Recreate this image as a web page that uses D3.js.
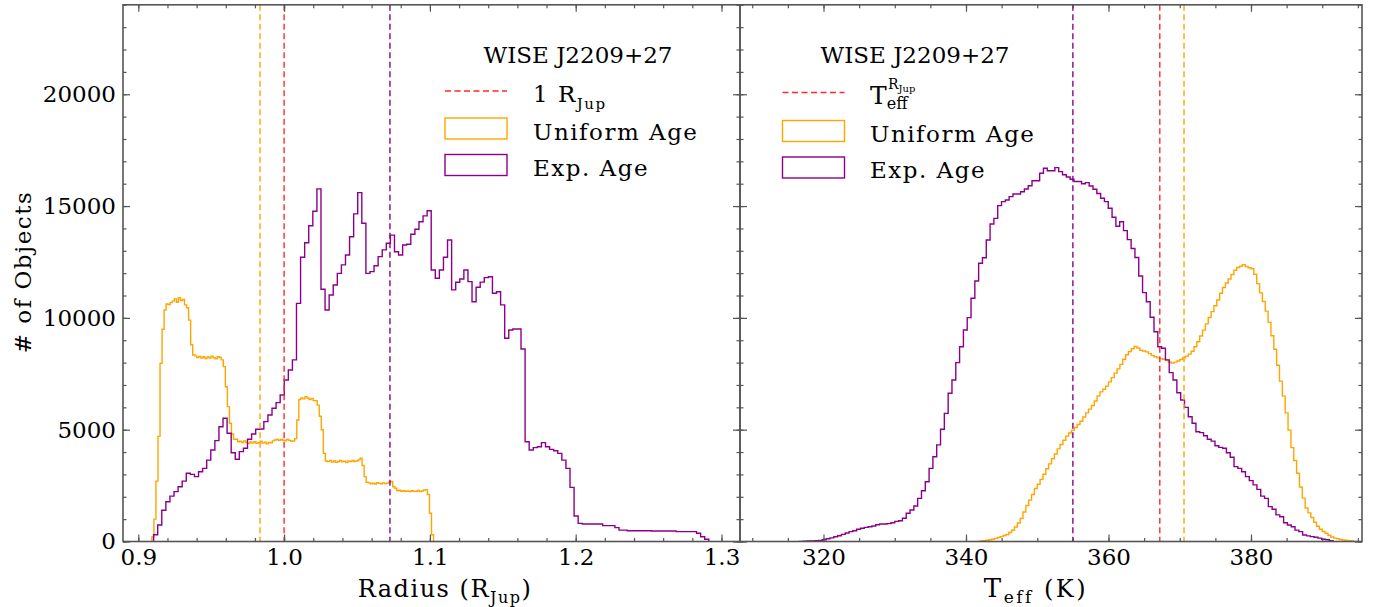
<!DOCTYPE html>
<html>
<head>
<meta charset="utf-8">
<script src="https://cdn.jsdelivr.net/npm/d3@7"></script>
<style>
  html, body { margin: 0; padding: 0; background: #fff; }
  svg { display: block; }
  text { font-family: "DejaVu Serif", serif; fill: #000; }
</style>
</head>
<body>
<svg id="chart" width="1382" height="607"></svg>
<script>
// ---------------- DATA ----------------
const objectName = "WISE J2209+27";
const seriesNames = ["Uniform Age", "Exp. Age"];

// Radius histograms (R_Jup)
const radiusExpStart = 0.9105, radiusExpWidth = 0.0028;
const radiusExpCounts = [300, 740, 1400, 1780, 2030, 2230, 2450, 2700, 3050, 3000, 2900, 3120, 3270, 3640, 4090, 4510, 5130, 5510, 4840, 3970, 3680, 4020, 4170, 4570, 4810, 5020, 5030, 5360, 5660, 5960, 6210, 6550, 7220, 7670, 8120, 10650, 12710, 13360, 14120, 14770, 15770, 11280, 10350, 11020, 11470, 11990, 12370, 12810, 13630, 14650, 15600, 14230, 11990, 12070, 12330, 12740, 13040, 13340, 13700, 12960, 12810, 13260, 13290, 13740, 13960, 14300, 14560, 14790, 12140, 11770, 12140, 12710, 13480, 11250, 11590, 11740, 12140, 11620, 10720, 11370, 11600, 11800, 11840, 11100, 11170, 10580, 9090, 9460, 9500, 9500, 8610, 4460, 4090, 4200, 4240, 4420, 4240, 4120, 4060, 3940, 3640, 3270, 2420, 1140, 810, 780, 780, 780, 780, 780, 710, 710, 710, 620, 510, 510, 480, 480, 480, 480, 480, 480, 470, 470, 470, 470, 470, 470, 440, 440, 440, 440, 440, 370, 210, 100];

const radiusUniStart = 0.9093, radiusUniWidth = 0.0014;
const radiusUniCounts = [200, 1000, 2700, 4700, 7970, 9490, 10350, 10620, 10600, 10680, 10750, 10850, 10700, 10900, 10780, 10820, 10580, 10450, 9900, 8800, 8340, 8300, 8230, 8280, 8200, 8260, 8180, 8250, 8200, 8290, 8220, 8170, 8260, 8230, 8120, 7820, 6920, 6030, 5290, 4810, 4570, 4570, 4460, 4480, 4430, 4500, 4420, 4380, 4450, 4400, 4460, 4390, 4420, 4480, 4400, 4440, 4370, 4430, 4410, 4500, 4540, 4580, 4520, 4560, 4530, 4500, 4560, 4520, 4480, 4500, 4600, 5430, 6350, 6420, 6380, 6480, 6420, 6350, 6400, 6300, 6300, 6100, 5600, 5000, 3940, 3600, 3570, 3620, 3550, 3600, 3540, 3580, 3620, 3560, 3590, 3530, 3600, 3570, 3620, 3580, 3600, 3650, 3720, 3400, 2900, 2650, 2620, 2580, 2610, 2570, 2630, 2600, 2580, 2620, 2590, 2610, 2650, 2680, 2450, 2380, 2270, 2290, 2250, 2270, 2240, 2260, 2230, 2270, 2240, 2250, 2280, 2230, 2260, 2300, 2320, 2100, 1260, 300];

// Teff histograms (K)
const teffExpStart = 316.63, teffExpWidth = 0.535;
const teffExpCounts = [5, 10, 20, 30, 40, 50, 80, 120, 160, 210, 260, 320, 380, 440, 480, 550, 590, 630, 660, 690, 750, 780, 780, 800, 840, 900, 930, 1040, 1260, 1410, 1590, 1930, 2270, 2670, 3270, 3790, 4320, 5020, 5730, 6630, 7220, 8000, 8710, 9460, 10010, 10880, 11650, 12440, 12690, 13480, 14200, 14450, 15020, 15200, 15270, 15420, 15540, 15540, 15640, 15760, 15910, 16130, 16130, 16470, 16690, 16580, 16580, 16720, 16540, 16400, 16300, 16200, 16100, 16100, 16000, 16050, 15900, 15750, 15560, 15350, 15200, 14900, 14500, 14100, 14300, 13900, 13500, 13100, 12700, 11870, 11130, 10720, 10030, 9380, 8710, 8640, 8120, 7550, 7220, 6650, 6330, 6000, 5580, 5290, 4910, 4870, 4730, 4570, 4490, 4280, 4210, 4170, 3970, 3770, 3350, 3270, 3120, 2900, 2720, 2530, 2330, 2030, 1930, 1560, 1440, 1190, 1110, 840, 740, 660, 510, 440, 290, 250, 220, 190, 150, 100, 80, 40];

const teffUniStart = 341.6, teffUniWidth = 0.4;
const teffUniCounts = [5, 20, 35, 55, 80, 100, 140, 180, 220, 270, 310, 400, 500, 650, 830, 1030, 1320, 1610, 1850, 2100, 2370, 2560, 2780, 3010, 3250, 3470, 3700, 3910, 4140, 4340, 4530, 4710, 4850, 4970, 5100, 5230, 5380, 5570, 5750, 5920, 6080, 6280, 6510, 6690, 6810, 6950, 7140, 7330, 7530, 7720, 7920, 8150, 8350, 8490, 8620, 8720, 8650, 8550, 8520, 8480, 8400, 8320, 8260, 8210, 8180, 8150, 8110, 8030, 7980, 8020, 8070, 8140, 8210, 8290, 8380, 8510, 8710, 8930, 9190, 9450, 9730, 10020, 10280, 10540, 10800, 11100, 11360, 11560, 11740, 11940, 12130, 12250, 12310, 12380, 12300, 12240, 12200, 11950, 11530, 11120, 10730, 10300, 9800, 9200, 8600, 7880, 7170, 6500, 5750, 4980, 4200, 3620, 3050, 2440, 1940, 1500, 1280, 1070, 860, 680, 550, 450, 370, 280, 200, 150, 120, 90, 70, 50, 40, 30];

// Reference lines
const radiusLines = [
  {key: "uni", value: 0.9835},
  {key: "ref", value: 1.0},
  {key: "exp", value: 1.0726}
];
const teffLines = [
  {key: "exp", value: 355.0},
  {key: "ref", value: 367.2},
  {key: "uni", value: 370.6}
];

// Ticks
const radiusMajorTicks = [0.9, 1.0, 1.1, 1.2, 1.3];
const teffMajorTicks = [320, 340, 360, 380];
const countMajorTicks = [0, 5000, 10000, 15000, 20000];

// ---------------- STYLE / LAYOUT ----------------
const colors = { uni: "#ffa500", exp: "#8b008b", ref: "#ff2a2a" };
const frameColor = "#555";
const plotTop = 4.8, plotBottom = 541.5;
const leftPanel = { x0: 123, x1: 740 };
const rightPanel = { x0: 740, x1: 1362 };

const svg = d3.select("#chart");
svg.append("rect").attr("width", 1382).attr("height", 607).attr("fill", "#fff");

const y = d3.scaleLinear().domain([0, 24000]).range([plotBottom, plotTop]);
const xR = d3.scaleLinear().domain([0.8895, 1.3127]).range([leftPanel.x0, leftPanel.x1]);
const xT = d3.scaleLinear().domain([308.28, 395.58]).range([rightPanel.x0, rightPanel.x1]);

function stepPts(start, width, counts) {
  const pts = [[start, 0]];
  counts.forEach((c, i) => {
    pts.push([start + i * width, c]);
    pts.push([start + (i + 1) * width, c]);
  });
  pts.push([start + counts.length * width, 0]);
  return pts;
}

function drawPanel(cfg) {
  const g = svg.append("g");
  const x = cfg.x;
  const [x0, x1] = x.range();
  const clipId = "clip" + cfg.id;
  svg.append("clipPath").attr("id", clipId)
    .append("rect").attr("x", x0).attr("y", plotTop).attr("width", x1 - x0).attr("height", plotBottom - plotTop);

  const plot = g.append("g").attr("clip-path", `url(#${clipId})`);
  const line = d3.line().x(d => x(d[0])).y(d => y(d[1]));

  cfg.hists.forEach(h => {
    plot.append("path")
      .attr("d", line(stepPts(h.start, h.width, h.counts)))
      .attr("fill", "none")
      .attr("stroke", colors[h.key])
      .attr("stroke-width", 1.4)
      .attr("stroke-linejoin", "miter");
  });

  cfg.lines.forEach(l => {
    plot.append("line")
      .attr("x1", x(l.value)).attr("x2", x(l.value))
      .attr("y1", plotTop).attr("y2", plotBottom)
      .attr("stroke", colors[l.key])
      .attr("stroke-width", 1.4)
      .attr("stroke-dasharray", "6,3.5");
  });

  const dom = x.domain();
  const minor = d3.range(Math.ceil(dom[0] / cfg.minorStep - 1e-9), Math.floor(dom[1] / cfg.minorStep + 1e-9) + 1)
    .map(k => +(k * cfg.minorStep).toFixed(6));
  const yMinor = d3.range(0, 24001, 1000);

  const axes = g.append("g").attr("class", "axes");
  function styleAxis(sel) {
    sel.select(".domain").remove();
    sel.selectAll(".tick line").attr("stroke", frameColor).attr("stroke-width", 1.2);
    sel.selectAll("text").style("font-family", "DejaVu Serif").style("font-size", "23px").attr("fill", "#000");
  }
  axes.append("g").attr("transform", `translate(0,${plotBottom})`)
    .call(d3.axisBottom(x).tickValues(cfg.major).tickSize(-7).tickPadding(7).tickFormat(cfg.fmt))
    .call(styleAxis);
  axes.append("g").attr("transform", `translate(0,${plotBottom})`)
    .call(d3.axisBottom(x).tickValues(minor).tickSize(-3.5).tickFormat(""))
    .call(styleAxis);
  axes.append("g").attr("transform", `translate(0,${plotTop})`)
    .call(d3.axisTop(x).tickValues(cfg.major).tickSize(-7).tickFormat(""))
    .call(styleAxis);
  axes.append("g").attr("transform", `translate(0,${plotTop})`)
    .call(d3.axisTop(x).tickValues(minor).tickSize(-3.5).tickFormat(""))
    .call(styleAxis);
  axes.append("g").attr("transform", `translate(${x0},0)`)
    .call(d3.axisLeft(y).tickValues(countMajorTicks).tickSize(-7).tickPadding(7)
      .tickFormat(cfg.yLabels ? d3.format("d") : ""))
    .call(styleAxis);
  axes.append("g").attr("transform", `translate(${x0},0)`)
    .call(d3.axisLeft(y).tickValues(yMinor).tickSize(-3.5).tickFormat(""))
    .call(styleAxis);
  axes.append("g").attr("transform", `translate(${x1},0)`)
    .call(d3.axisRight(y).tickValues(countMajorTicks).tickSize(-7).tickFormat(""))
    .call(styleAxis);
  axes.append("g").attr("transform", `translate(${x1},0)`)
    .call(d3.axisRight(y).tickValues(yMinor).tickSize(-3.5).tickFormat(""))
    .call(styleAxis);

  g.append("rect").attr("x", x0).attr("y", plotTop).attr("width", x1 - x0).attr("height", plotBottom - plotTop)
    .attr("fill", "none").attr("stroke", frameColor).attr("stroke-width", 1.6);

  const L = cfg.legend;
  const lg = g.append("g").style("font-family", "DejaVu Serif").style("font-size", "23px");
  lg.append("text").attr("x", L.titleX).attr("y", L.titleY).attr("text-anchor", "middle").text(objectName);
  lg.append("line").attr("x1", L.x).attr("x2", L.x + 62).attr("y1", L.lineY).attr("y2", L.lineY)
    .attr("stroke", colors.ref).attr("stroke-width", 1.4).attr("stroke-dasharray", "6,3.5");
  L.refLabel(lg);
  [["uni", seriesNames[0], L.box1Y, L.text1Y], ["exp", seriesNames[1], L.box2Y, L.text2Y]].forEach(([k, name, by, ty]) => {
    lg.append("rect").attr("x", L.x).attr("y", by).attr("width", 62).attr("height", 21)
      .attr("fill", "none").attr("stroke", colors[k]).attr("stroke-width", 1.4);
    lg.append("text").attr("x", L.textX).attr("y", ty).style("letter-spacing", "1.5px").text(name);
  });

  cfg.xTitle(g.append("text").attr("x", cfg.xTitleX).attr("y", 597).attr("text-anchor", "middle")
    .style("font-size", "24px").style("letter-spacing", cfg.xTitleSpacing));
}

drawPanel({
  id: "L", x: xR, major: radiusMajorTicks, minorStep: 0.02, fmt: d3.format(".1f"), yLabels: true,
  hists: [
    {key: "uni", start: radiusUniStart, width: radiusUniWidth, counts: radiusUniCounts},
    {key: "exp", start: radiusExpStart, width: radiusExpWidth, counts: radiusExpCounts}
  ],
  lines: radiusLines,
  legend: {
    titleX: 578, titleY: 63, x: 445, lineY: 91,
    box1Y: 118, text1Y: 140, box2Y: 154.5, text2Y: 176, textX: 533,
    refLabel: lg => {
      const t = lg.append("text").attr("x", 533).attr("y", 102).style("letter-spacing", "1.5px");
      t.append("tspan").text("1 R");
      t.append("tspan").attr("dy", 7).style("font-size", "15px").text("Jup");
    }
  },
  xTitleX: 445, xTitleSpacing: "1.5px",
  xTitle: t => {
    t.append("tspan").text("Radius (R");
    t.append("tspan").attr("dy", 6).style("font-size", "16px").text("Jup");
    t.append("tspan").attr("dy", -6).text(")");
  }
});

drawPanel({
  id: "R", x: xT, major: teffMajorTicks, minorStep: 5, fmt: d3.format("d"), yLabels: false,
  hists: [
    {key: "uni", start: teffUniStart, width: teffUniWidth, counts: teffUniCounts},
    {key: "exp", start: teffExpStart, width: teffExpWidth, counts: teffExpCounts}
  ],
  lines: teffLines,
  legend: {
    titleX: 915, titleY: 63, x: 782.5, lineY: 92.5,
    box1Y: 120.5, text1Y: 141.5, box2Y: 157, text2Y: 178, textX: 870,
    refLabel: lg => {
      const t = lg.append("text").attr("x", 870).attr("y", 104);
      t.append("tspan").style("font-size", "25px").text("T");
      t.append("tspan").attr("dy", 5).style("font-size", "16px").text("eff");
      const s = lg.append("text").attr("x", 888).attr("y", 89);
      s.append("tspan").style("font-size", "14px").text("R");
      s.append("tspan").attr("dy", 3).style("font-size", "10px").text("Jup");
    }
  },
  xTitleX: 1036, xTitleSpacing: "2.5px",
  xTitle: t => {
    t.append("tspan").style("font-size", "26px").text("T");
    t.append("tspan").attr("dy", 6).style("font-size", "17px").text("eff");
    t.append("tspan").attr("dy", -6).text(" (K)");
  }
});

svg.append("text")
  .attr("transform", "translate(31,272) rotate(-90)")
  .attr("text-anchor", "middle")
  .style("font-size", "23px").style("letter-spacing", "1.5px")
  .text("# of Objects");
</script>
</body>
</html>
